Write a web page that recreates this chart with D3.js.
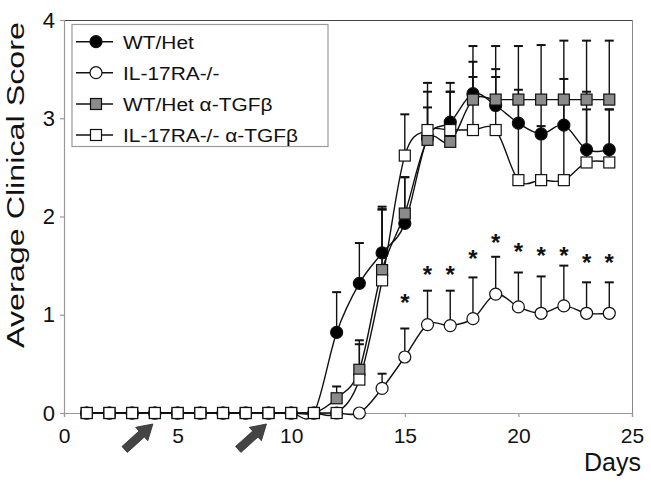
<!DOCTYPE html>
<html>
<head>
<meta charset="utf-8">
<script src="https://cdn.jsdelivr.net/npm/d3@7"></script>
<style>
  html, body { margin: 0; padding: 0; background: #fff; }
  svg { display: block; font-family: Arial, "Liberation Sans", Helvetica, sans-serif; }
</style>
</head>
<body>
<svg id="chart" width="651" height="482"></svg>
<script>
// ---------- data ----------
const days = [1,2,3,4,5,6,7,8,9,10,11,12,13,14,15,16,17,18,19,20,21,22,23,24];

const seriesNames = ["WT/Het", "IL-17RA-/-", "WT/Het \u03B1-TGF\u03B2", "IL-17RA-/- \u03B1-TGF\u03B2"];

const wtHet      = [0,0,0,0,0,0,0,0,0,0,0,0.82,1.32,1.63,1.93,2.80,2.96,3.25,3.13,2.95,2.84,2.93,2.68,2.68];
const il17ra     = [0,0,0,0,0,0,0,0,0,0,0,0,0,0.25,0.57,0.90,0.89,0.96,1.21,1.08,1.015,1.09,1.015,1.015];
const wtHetTgf   = [0,0,0,0,0,0,0,0,0,0,0,0.15,0.44,1.455,2.03,2.78,2.76,3.19,3.19,3.19,3.19,3.19,3.19,3.19];
const il17raTgf  = [0,0,0,0,0,0,0,0,0,0,0,0,0.34,1.35,2.62,2.88,2.88,2.88,2.88,2.37,2.37,2.37,2.55,2.55];

const wtHetErr     = [0,0,0,0,0,0,0,0,0,0,0,0.41,0.41,0.47,0.47,0.47,0.40,0.325,0.37,0.34,0.36,0.47,0.59,0.41];
const il17raErr    = [0,0,0,0,0,0,0,0,0,0,0,0,0,0.15,0.29,0.345,0.355,0.42,0.38,0.35,0.375,0.41,0.315,0.315];
const wtHetTgfErr  = [0,0,0,0,0,0,0,0,0,0,0,0.12,0.30,0.62,0.37,0.33,0.51,0.545,0.545,0.545,0.555,0.60,0.60,0.60];
const il17raTgfErr = [0,0,0,0,0,0,0,0,0,0,0,0,0.36,0.72,0.42,0.48,0.39,0.54,0.54,0.80,0.55,0.78,0.54,0.54];

const starDays = [15,16,17,18,19,20,21,22,23,24];
const starLevel = [1.17,1.455,1.455,1.62,1.78,1.69,1.65,1.65,1.575,1.575];

const arrowDays = [4, 9];

const xTicks = [0,5,10,15,20,25];
const yTicks = [0,1,2,3,4];

// ---------- setup ----------
const svg = d3.select("#chart");
const x = d3.scaleLinear().domain([0,25]).range([64,632]);
const y = d3.scaleLinear().domain([0,4]).range([413,20]);

const series = [
  {name: seriesNames[0], vals: wtHet,     err: wtHetErr,     shape: "circle", fill: "#000"},
  {name: seriesNames[1], vals: il17ra,    err: il17raErr,    shape: "circle", fill: "#fff"},
  {name: seriesNames[2], vals: wtHetTgf,  err: wtHetTgfErr,  shape: "square", fill: "#8a8a8a"},
  {name: seriesNames[3], vals: il17raTgf, err: il17raTgfErr, shape: "square", fill: "#fff"}
];

// ---------- frame & axes ----------
svg.append("line").attr("x1",64).attr("x2",632).attr("y1",20.5).attr("y2",20.5)
   .attr("stroke","#444").attr("stroke-width",1.2);
svg.append("line").attr("x1",632.5).attr("x2",632.5).attr("y1",20).attr("y2",413)
   .attr("stroke","#888").attr("stroke-width",1);

const yAxis = svg.append("g").attr("transform","translate(64,0)")
  .call(d3.axisLeft(y).tickValues(yTicks).tickFormat(d3.format("d")).tickSize(4).tickPadding(5));
const xAxis = svg.append("g").attr("transform","translate(0,413)")
  .call(d3.axisBottom(x).tickValues(xTicks).tickFormat(d3.format("d")).tickSize(4).tickPadding(11));
[yAxis, xAxis].forEach(g => {
  g.select(".domain").attr("stroke","#999").attr("stroke-width",1.2);
  g.selectAll(".tick line").attr("stroke","#999").attr("stroke-width",1.2);
  g.selectAll(".tick text").attr("fill","#111")
   .style("font-family","Arial, 'Liberation Sans', sans-serif");
});
yAxis.selectAll(".tick text").style("font-size","22px");
xAxis.selectAll(".tick text").style("font-size","21px");

svg.append("text")
  .attr("transform","translate(24,185) rotate(-90)")
  .attr("text-anchor","middle")
  .attr("textLength",326).attr("lengthAdjust","spacingAndGlyphs")
  .style("font-size","23px").attr("fill","#111")
  .text("Average Clinical Score");

svg.append("text").attr("x",641).attr("y",471).attr("text-anchor","end")
  .style("font-size","25px").attr("fill","#111").text("Days");

// ---------- arrows ----------
const arrowPts = [[0,0],[-15,-9],[-15,-4],[-38,-4],[-38,4],[-15,4],[-15,9]];
svg.selectAll("path.arrow").data(arrowDays).join("path")
  .attr("class","arrow")
  .attr("transform", d => `translate(${x(d)-2},424) rotate(-42)`)
  .attr("d", d3.line()(arrowPts) + "Z")
  .attr("fill","#444").attr("stroke","#333").attr("stroke-width",0.8);

// ---------- lines ----------
const lineGen = d3.line().x((d,i)=>x(days[i])).y(d=>y(d)).curve(d3.curveCatmullRom.alpha(0));
series.forEach(s => {
  svg.append("path").attr("d", lineGen(s.vals))
    .attr("fill","none").attr("stroke","#111").attr("stroke-width",1.4);
});

// ---------- error bars ----------
series.forEach(s => {
  const eb = s.vals.map((v,i)=>({d:days[i], v, e:s.err[i]})).filter(o=>o.e>0);
  const g = svg.append("g");
  g.selectAll("line.v").data(eb).join("line")
    .attr("x1",o=>x(o.d)).attr("x2",o=>x(o.d))
    .attr("y1",o=>y(o.v)).attr("y2",o=>y(o.v+o.e))
    .attr("stroke","#111").attr("stroke-width",1.4);
  g.selectAll("line.c").data(eb).join("line")
    .attr("x1",o=>x(o.d)-4.5).attr("x2",o=>x(o.d)+4.5)
    .attr("y1",o=>y(o.v+o.e)).attr("y2",o=>y(o.v+o.e))
    .attr("stroke","#111").attr("stroke-width",2);
});

// ---------- markers ----------
function drawMarker(g, shape, fill, cx, cy) {
  if (shape === "circle") {
    g.append("circle").attr("cx",cx).attr("cy",cy).attr("r",6)
      .attr("fill",fill).attr("stroke","#111").attr("stroke-width",1.2);
  } else {
    g.append("rect").attr("x",cx-5.5).attr("y",cy-5.5).attr("width",11).attr("height",11)
      .attr("fill",fill).attr("stroke","#111").attr("stroke-width",1.2);
  }
}
series.forEach(s => {
  const g = svg.append("g");
  s.vals.forEach((v,i) => drawMarker(g, s.shape, s.fill, x(days[i]), y(v)));
});

// ---------- significance stars ----------
svg.selectAll("text.star").data(starDays).join("text")
  .attr("class","star")
  .attr("x", d => x(d)).attr("y", (d,i) => y(starLevel[i]) + 13)
  .attr("text-anchor","middle").style("font-size","24px").style("font-weight","bold")
  .attr("fill","#111").text("*");

// ---------- legend ----------
const lg = svg.append("g");
lg.append("rect").attr("x",72).attr("y",24.5).attr("width",256).attr("height",122)
  .attr("fill","#fff").attr("stroke","#999").attr("stroke-width",1.2);
const legendY = [41.7, 72.7, 104, 135];
series.forEach((s,i) => {
  const yy = legendY[i];
  lg.append("line").attr("x1",76).attr("x2",113).attr("y1",yy).attr("y2",yy)
    .attr("stroke","#111").attr("stroke-width",1.4);
  drawMarker(lg, s.shape, s.fill, 96, yy);
  lg.append("text").attr("transform",`translate(123,${yy+7}) scale(1.1,1)`)
    .style("font-size","19px").attr("fill","#111").text(s.name);
});
</script>
</body>
</html>
